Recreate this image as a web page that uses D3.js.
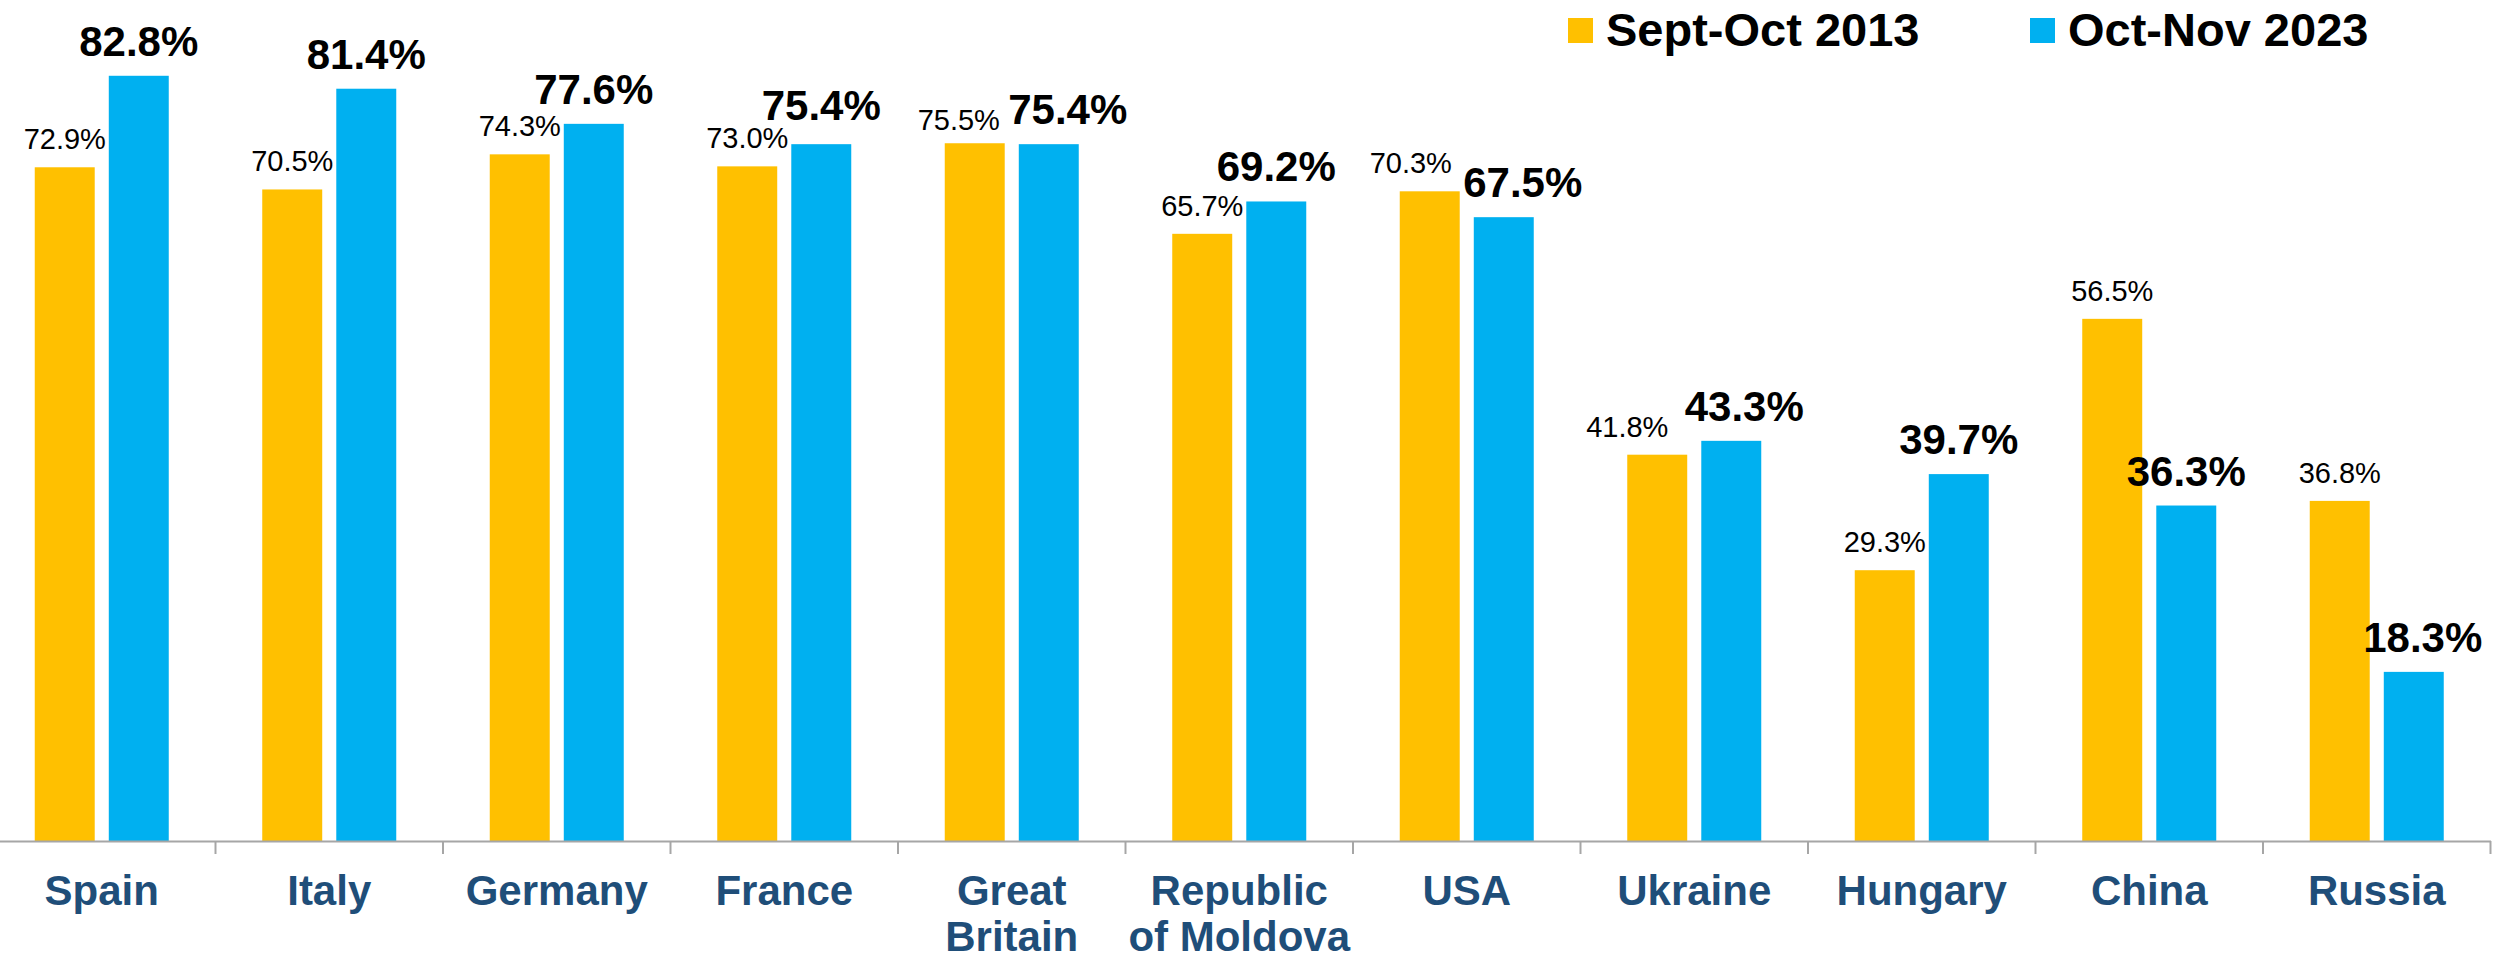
<!DOCTYPE html>
<meta charset="utf-8">
<style>
  body { margin: 0; background: #fff; }
  text { font-family: "Liberation Sans", Arial, sans-serif; }
</style>

<!-- Load d3.js -->
<script src="https://d3js.org/d3.v7.min.js"></script>

<!-- the chart goes here -->
<div id="my_dataviz"></div>

<script>

    // data
    var countries = ["Spain", "Italy", "Germany", "France", "Great Britain", "Republic of Moldova",
                     "USA", "Ukraine", "Hungary", "China", "Russia"];
    var tickLabels = [["Spain"], ["Italy"], ["Germany"], ["France"], ["Great", "Britain"],
                      ["Republic", "of Moldova"], ["USA"], ["Ukraine"], ["Hungary"], ["China"], ["Russia"]];
    var seriesNames = ["Sept-Oct 2013", "Oct-Nov 2023"];
    var values2013 = [72.9, 70.5, 74.3, 73.0, 75.5, 65.7, 70.3, 41.8, 29.3, 56.5, 36.8];
    var values2023 = [82.8, 81.4, 77.6, 75.4, 75.4, 69.2, 67.5, 43.3, 39.7, 36.3, 18.3];

    // labels that were pushed aside so they don't collide: [dx, dy] for 2013, 2023 (px)
    var labelShift = {
      "France": [[0, 0], [0, -4]],
      "Great Britain": [[-16, 5], [19, 0]],
      "USA": [[-19, 0], [19, 0]],
      "Ukraine": [[-30, 0], [13, 0]],
      "Russia": [[0, 0], [9, 0]]
    };

    var colors = ["#FFC000", "#00B0F0"];

    var width = 2493, height = 959;
    var baseline = 841;

    var svg = d3.select("#my_dataviz")
      .append("svg")
        .attr("width", width)
        .attr("height", height);

    // one row per country
    var data = countries.map(function(c, i) {
      return {country: c, lines: tickLabels[i], v: [values2013[i], values2023[i]]};
    });

    // X scale: one band per country
    var x = d3.scaleBand()
      .domain(countries)
      .range([-12, 2490.5])
      .padding(0);

    // sub scale for the two periods inside a band
    var xSub = d3.scaleBand()
      .domain([0, 1])
      .range([-67, 67])
      .paddingInner(0.19);

    // Y scale
    var y = d3.scaleLinear()
      .domain([0, 91])
      .range([baseline, 0]);

    // bars
    var groups = svg.append("g")
      .selectAll("g")
      .data(data)
      .enter()
      .append("g")
        .attr("transform", function(d) { return "translate(" + (x(d.country) + x.bandwidth() / 2) + ",0)"; });

    groups.selectAll("rect")
      .data(function(d) { return d.v.map(function(v, k) { return {k: k, v: v}; }); })
      .enter()
      .append("rect")
        .attr("x", function(d) { return xSub(d.k); })
        .attr("y", function(d) { return y(d.v); })
        .attr("width", xSub.bandwidth())
        .attr("height", function(d) { return baseline - y(d.v); })
        .style("fill", function(d) { return colors[d.k]; });

    // value labels
    groups.each(function(d) {
      var shift = labelShift[d.country] || [[0, 0], [0, 0]];
      var g = d3.select(this);
      d.v.forEach(function(v, k) {
        g.append("text")
          .attr("x", xSub(k) + xSub.bandwidth() / 2 + shift[k][0])
          .attr("y", y(v) - (k == 0 ? 18 : 20) + shift[k][1])
          .attr("text-anchor", "middle")
          .style("font-size", k == 0 ? "29px" : "42px")
          .style("font-weight", k == 0 ? "normal" : "bold")
          .style("fill", "#000")
          .text(v.toFixed(1) + "%");
      });
    });

    // X axis: line only, labels drawn below
    var xAxis = svg.append("g")
      .attr("transform", "translate(0," + baseline + ")")
      .call(d3.axisBottom(x).tickSize(0).tickFormat(""));
    xAxis.select(".domain")
      .attr("stroke", "#A6A6A6")
      .attr("stroke-width", 2);

    // tick marks sit between the bands
    xAxis.selectAll(".sep")
      .data(countries)
      .enter()
      .append("line")
        .attr("class", "sep")
        .attr("x1", function(d) { return x(d) + x.bandwidth(); })
        .attr("x2", function(d) { return x(d) + x.bandwidth(); })
        .attr("y1", 0)
        .attr("y2", 13)
        .attr("stroke", "#A6A6A6")
        .attr("stroke-width", 2);

    // category names, some on two lines
    var tickText = xAxis.selectAll(".cat")
      .data(data)
      .enter()
      .append("text")
        .attr("class", "cat")
        .attr("text-anchor", "middle")
        .attr("x", function(d) { return x(d.country) + x.bandwidth() / 2; })
        .style("font-size", "42px")
        .style("font-weight", "bold")
        .style("fill", "#1F4E79");
    tickText.selectAll("tspan")
      .data(function(d) { return d.lines; })
      .enter()
      .append("tspan")
        .attr("x", function() { return d3.select(this.parentNode).attr("x"); })
        .attr("y", function(d, i) { return 64 + i * 46; })
        .text(function(d) { return d; });

    // legend
    var legendX = [1568, 2030];
    var legend = svg.append("g")
      .selectAll("g")
      .data(seriesNames)
      .enter()
      .append("g")
        .attr("transform", function(d, i) { return "translate(" + legendX[i] + ",18)"; });
    legend.append("rect")
      .attr("width", 25)
      .attr("height", 25)
      .style("fill", function(d, i) { return colors[i]; });
    legend.append("text")
      .attr("x", 38)
      .attr("y", 28)
      .style("font-size", "47px")
      .style("font-weight", "bold")
      .style("fill", "#000")
      .text(function(d) { return d; });

</script>
